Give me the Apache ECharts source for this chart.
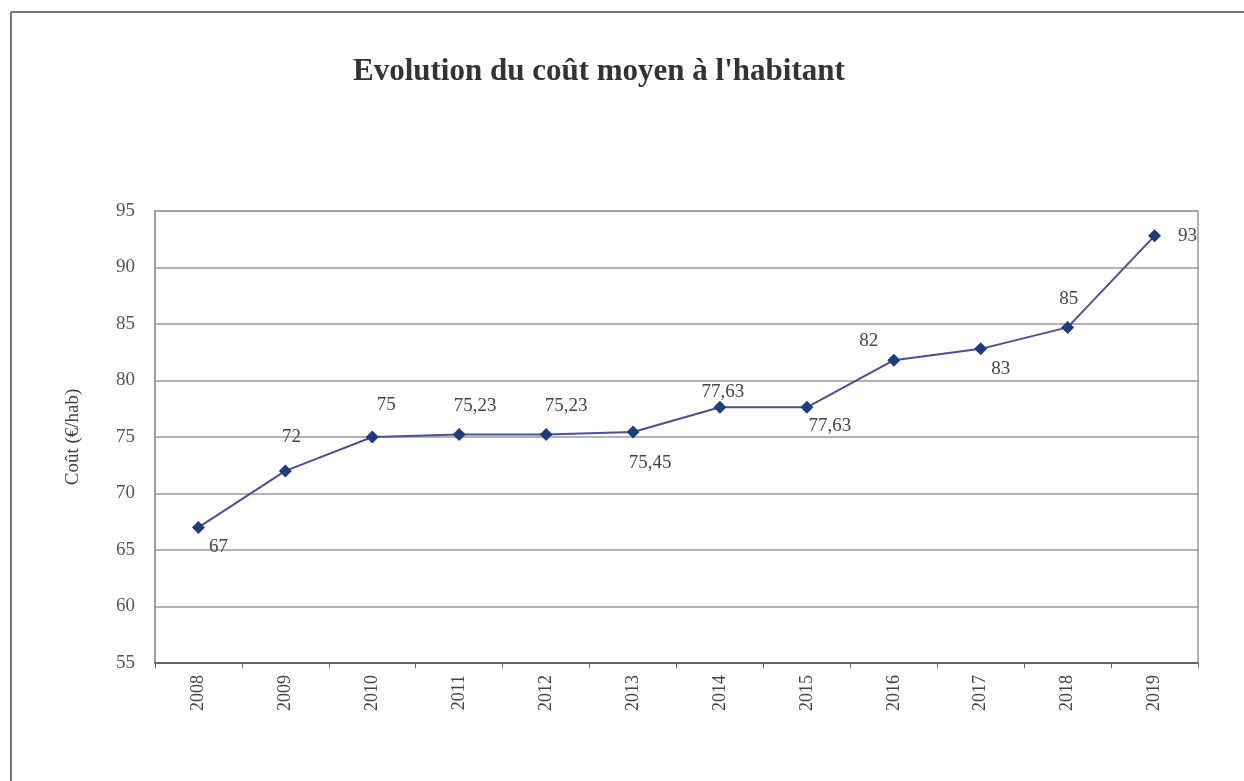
<!DOCTYPE html>
<html>
<head>
<meta charset="utf-8">
<script src="https://cdn.jsdelivr.net/npm/echarts@6/dist/echarts.min.js"></script>
<style>
html,body{margin:0;padding:0;background:#fff;}
#chart{width:1244px;height:781px;}
</style>
</head>
<body>
<div id="chart"></div>
<script>
// ---- data ----
var titleText = "Evolution du coût moyen à l'habitant";
var yAxisName = "Coût (€/hab)";
var years = ["2008","2009","2010","2011","2012","2013","2014","2015","2016","2017","2018","2019"];
var costs = [67, 72, 75, 75.23, 75.23, 75.45, 77.63, 77.63, 81.8, 82.8, 84.7, 92.8];
var costLabels = ["67","72","75","75,23","75,23","75,45","77,63","77,63","82","83","85","93"];
var yMin = 55, yMax = 95, yStep = 5;

// ---- label placement (style, not data) ----
var labelOffsets = [[20,20],[6,-34],[14,-32],[16,-28],[20,-28],[17,31],[3,-15],[23,19],[-25,-19],[20,20],[1,-28],[33,0]];

var serif = '"Liberation Serif","DejaVu Serif",serif';
var seriesData = costs.map(function(v,i){
  return {
    value: v,
    label: {
      show: true,
      position: 'inside',
      offset: labelOffsets[i],
      formatter: costLabels[i],
      fontFamily: serif,
      fontSize: 19,
      color: '#444'
    }
  };
});

var chart = echarts.init(document.getElementById('chart'), null, {renderer:'canvas'});
chart.setOption({
  backgroundColor: '#fff',
  animation: false,
  title: {
    text: titleText,
    left: 348,
    top: 51,
    textStyle: {fontFamily: serif, fontSize: 31, fontWeight: 'bold', color: '#333'}
  },
  graphic: [
    {type:'line', shape:{x1:11, y1:12, x2:1244, y2:12}, style:{stroke:'#777', lineWidth:2}},
    {type:'line', shape:{x1:11, y1:12, x2:11, y2:781}, style:{stroke:'#777', lineWidth:2}}
  ],
  grid: {
    left: 155, top: 211, right: 46, bottom: 118,
    show: true, borderColor: '#999', borderWidth: 1.5, backgroundColor: 'transparent'
  },
  xAxis: {
    type: 'category',
    data: years,
    boundaryGap: true,
    axisLine: {lineStyle: {color: '#666', width: 2}},
    axisTick: {show: true, length: 5, lineStyle: {color: '#666'}},
    axisLabel: {rotate: 90, margin: 12, fontFamily: serif, fontSize: 18, color: '#444'},
    splitLine: {show: false}
  },
  yAxis: {
    type: 'value',
    min: yMin, max: yMax, interval: yStep,
    name: yAxisName,
    nameLocation: 'middle',
    nameRotate: 90,
    nameGap: 72,
    nameTextStyle: {fontFamily: serif, fontSize: 19, color: '#444'},
    axisLine: {show: true, lineStyle: {color: '#999', width: 1.5}},
    axisTick: {show: false},
    axisLabel: {margin: 20, fontFamily: serif, fontSize: 19, color: '#555'},
    splitLine: {lineStyle: {color: '#999', width: 1.5}}
  },
  series: [{
    type: 'line',
    data: seriesData,
    symbol: 'diamond',
    symbolSize: 13,
    lineStyle: {color: '#4b4f96', width: 2},
    itemStyle: {color: '#1f3d7a'},
    z: 5
  }]
});
</script>
</body>
</html>
